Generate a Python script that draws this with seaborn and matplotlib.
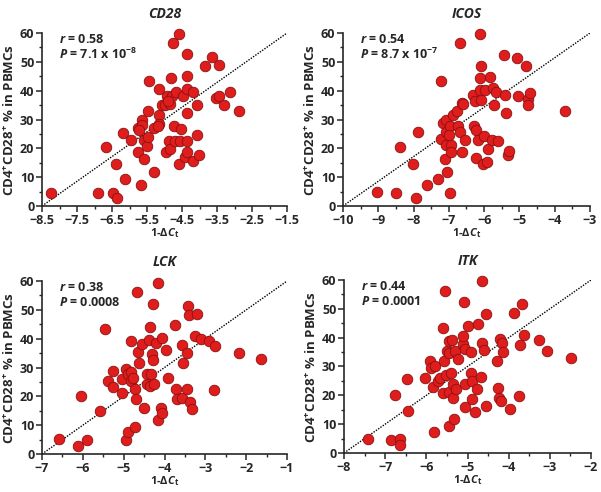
## Scatter plots of CD4+CD28+ % in PBMCs against 1-dCt for four genes
import seaborn as sns
import numpy as np
import matplotlib.pyplot as plt
import pandas as pd
from matplotlib.ticker import MultipleLocator

# CD28 panel
cd28_x = [-8.23, -6.9, -6.47, -6.37, -6.68, -6.39, -6.13, -6.18, -5.96, -5.68, -5.77, -5.77,
          -5.63, -5.65, -5.59, -5.51, -5.58, -5.44, -5.46, -5.46, -5.29, -5.30, -5.17, -5.15,
          -5.15, -5.08, -4.98, -4.94, -4.97, -4.87, -4.84, -4.81, -4.84, -4.79, -4.75, -4.72,
          -4.68, -4.70, -4.60, -4.58, -4.53, -4.56, -4.46, -4.41, -4.36, -4.35, -4.35, -4.35,
          -4.36, -4.36, -4.20, -4.19, -4.08, -4.06, -4.01, -3.84, -3.64, -3.53, -3.43, -3.43,
          -3.29, -3.14, -2.88, -5.20, -4.90, -5.72]
cd28_y = [4.6, 4.6, 4.6, 2.7, 20.3, 14.6, 9.4, 25.3, 22.9, 7.3, 18.8, 27.0,
          29.7, 28.0, 22.9, 20.9, 16.2, 43.2, 33.0, 24.0, 11.8, 27.0, 40.7, 31.6,
          28.4, 35.0, 35.0, 38.0, 18.9, 22.5, 19.9, 44.4, 35.5, 38.0, 56.5, 27.8,
          39.4, 22.7, 59.7, 14.5, 26.8, 22.5, 38.0, 16.9, 52.7, 45.0, 40.6, 32.2,
          22.7, 18.9, 39.7, 15.6, 35.1, 24.7, 17.6, 48.6, 51.6, 37.3, 48.8, 38.0,
          35.1, 39.4, 33.1, 27.6, 36.4, 26.4]

# ICOS panel
icos_x = [-9.05, -8.49, -8.39, -8.01, -7.87, -7.94, -7.63, -7.30, -7.21, -7.21, -7.18, -7.07,
          -7.11, -7.04, -7.07, -6.98, -7.0, -7.07, -6.97, -6.93, -6.93, -6.88, -6.78, -6.74,
          -6.69, -6.62, -6.64, -6.53, -6.69, -6.12, -6.59, -6.31, -6.28, -6.26, -6.24, -6.22,
          -6.17, -6.12, -6.10, -6.12, -6.09, -6.03, -6.01, -5.98, -5.93, -5.90, -5.82, -5.76,
          -5.71, -5.65, -5.79, -5.60, -5.44, -5.41, -5.39, -5.32, -5.29, -5.08, -5.03, -4.80,
          -4.77, -4.75, -4.70, -3.71]
icos_y = [5.0, 4.6, 20.4, 14.6, 25.6, 2.9, 7.3, 9.4, 43.4, 23.2, 28.7, 29.9,
          16.2, 11.9, 25.8, 27.6, 24.7, 21.0, 4.6, 21.0, 18.9, 31.5, 32.8, 27.6,
          25.8, 18.9, 35.7, 22.9, 56.5, 59.7, 35.4, 38.6, 27.8, 36.3, 16.6, 26.4,
          22.9, 44.3, 48.4, 40.3, 36.8, 14.5, 24.3, 40.3, 15.2, 19.8, 44.7, 40.9,
          35.1, 39.7, 22.9, 22.4, 52.5, 38.6, 32.2, 17.7, 19.2, 51.3, 38.0, 48.7,
          37.1, 34.9, 39.2, 33.1]

# LCK panel
lck_x = [-6.58, -6.11, -5.90, -6.05, -5.58, -5.46, -5.38, -5.27, -5.26, -5.03, -5.05, -4.95,
         -4.95, -4.89, -4.89, -4.83, -4.83, -4.82, -4.77, -4.73, -4.73, -4.71, -4.68, -4.66,
         -4.62, -4.56, -4.50, -4.44, -4.42, -4.38, -4.36, -4.36, -4.32, -4.30, -4.29, -4.28,
         -4.26, -4.22, -4.17, -4.15, -4.09, -4.06, -4.05, -3.97, -3.92, -3.74, -3.72, -3.70,
         -3.58, -3.56, -3.54, -3.46, -3.44, -3.42, -3.40, -3.38, -3.32, -3.21, -3.25, -3.11,
         -2.92, -2.76, -2.80, -2.17, -1.63]
lck_y = [5.2, 2.9, 4.8, 20.2, 14.8, 43.3, 25.4, 28.8, 23.1, 21.3, 26.0, 4.8,
         29.6, 7.5, 27.7, 28.5, 25.4, 39.2, 26.2, 22.5, 9.5, 19.0, 56.3, 35.4,
         31.7, 38.3, 16.1, 24.2, 27.7, 39.6, 44.1, 23.6, 27.7, 34.8, 32.5, 52.2,
         24.4, 38.6, 11.9, 59.4, 16.1, 40.4, 14.4, 36.0, 26.5, 44.7, 22.5, 19.0,
         19.6, 37.7, 31.7, 34.9, 22.5, 51.3, 48.1, 17.9, 15.6, 48.4, 40.9, 39.8,
         39.2, 37.3, 22.3, 35.0, 33.1]

# ITK panel
itk_x = [-7.42, -6.85, -6.63, -6.63, -6.77, -6.44, -6.46, -6.04, -5.92, -5.85, -5.81, -5.88,
         -5.78, -5.71, -5.67, -5.59, -5.59, -5.57, -5.55, -5.53, -5.49, -5.45, -5.45, -5.45,
         -5.46, -5.39, -5.37, -5.35, -5.35, -5.32, -5.31, -5.28, -5.23, -5.12, -5.10, -5.08,
         -5.06, -5.05, -5.05, -5.0, -4.92, -4.92, -4.90, -4.90, -4.82, -4.76, -4.74, -4.68,
         -4.66, -4.64, -4.60, -4.56, -4.54, -4.29, -4.27, -4.22, -4.23, -4.18, -4.17, -4.13,
         -3.97, -3.86, -3.74, -3.73, -3.67, -3.64, -3.26, -3.06, -2.49]
itk_y = [4.9, 4.6, 4.9, 2.7, 20.1, 14.5, 25.5, 26.1, 31.9, 23.0, 7.3, 29.6,
         30.2, 24.9, 26.1, 43.5, 20.9, 31.9, 56.3, 27.1, 35.4, 9.5, 38.9, 21.3,
         34.8, 27.7, 39.2, 23.8, 18.9, 11.9, 35.4, 22.3, 32.7, 37.7, 40.6, 52.5,
         15.9, 36.2, 24.1, 44.1, 35.0, 27.7, 24.9, 18.8, 14.3, 22.3, 44.9, 26.5,
         38.3, 59.7, 35.7, 16.2, 48.3, 31.9, 22.6, 39.7, 19.1, 18.0, 38.3, 35.0,
         15.4, 48.7, 19.7, 37.4, 51.6, 40.8, 39.2, 35.2, 33.1]

genes = ["CD28", "ICOS", "LCK", "ITK"]
r_labels = ["0.58", "0.54", "0.38", "0.44"]
p_labels = [r"7.1 x 10$^{\mathbf{-8}}$", r"8.7 x 10$^{\mathbf{-7}}$", "0.0008", "0.0001"]
x_limits = [(-8.5, -1.5), (-10, -3), (-7, -1), (-8, -2)]
y_limits = (0, 60)

xs = [cd28_x, icos_x, lck_x, itk_x]
ys = [cd28_y, icos_y, lck_y, itk_y]

sns.set_style("ticks")
plt.rcParams['font.family'] = ['Open Sans', 'DejaVu Sans']
plt.rcParams['mathtext.fontset'] = 'custom'
plt.rcParams['mathtext.rm'] = 'Open Sans:bold'
plt.rcParams['mathtext.it'] = 'Open Sans:bold:italic'
plt.rcParams['mathtext.bf'] = 'Open Sans:bold'

fig = plt.figure(figsize=(6.01, 4.92), dpi=100)
positions = [
    [0.0699, 0.5813, 0.4077, 0.3516],
    [0.5707, 0.5813, 0.4110, 0.3516],
    [0.0699, 0.0772, 0.4077, 0.3516],
    [0.5724, 0.0793, 0.4110, 0.3516],
]

for i in range(4):
    ax = fig.add_axes(positions[i])
    df = pd.DataFrame({"dct": xs[i], "pct": ys[i]})
    # dotted diagonal across the axes
    ax.plot(x_limits[i], y_limits, color="black", linestyle=(0, (1, 1)), lw=1.0, zorder=1)
    sns.scatterplot(data=df, x="dct", y="pct", ax=ax, s=58, color="#e01d1d",
                    edgecolor="#8a1010", linewidth=0.6, clip_on=False, zorder=3)
    ax.set_xlim(*x_limits[i])
    ax.set_ylim(*y_limits)
    ax.xaxis.set_major_locator(MultipleLocator(1.0, offset=x_limits[i][0] % 1.0))
    ax.xaxis.set_minor_locator(MultipleLocator(0.5))
    ax.yaxis.set_major_locator(MultipleLocator(10))
    ax.yaxis.set_minor_locator(MultipleLocator(5))
    sns.despine(ax=ax)
    for sp in ["left", "bottom"]:
        ax.spines[sp].set_linewidth(1.2)
    ax.tick_params(which="major", length=4, width=1.1, labelsize=9, pad=1.5)
    ax.tick_params(which="minor", length=2.5, width=1.0)
    for lab in ax.get_xticklabels() + ax.get_yticklabels():
        lab.set_fontweight("bold")
    ax.set_xlabel(r"1-Δ$\mathit{C}_{\mathrm{t}}$", fontsize=8, fontweight="bold", labelpad=0)
    ax.set_ylabel(r"CD4$^{+}$CD28$^{+}$ % in PBMCs", fontsize=9.5, fontweight="bold", labelpad=3)
    ax.set_title(genes[i], fontsize=10, fontweight="bold", fontstyle="italic", pad=11)
    ax.text(0.07, 0.96, r"$r$ = " + r_labels[i], transform=ax.transAxes,
            fontsize=9, fontweight="bold", va="center")
    ax.text(0.07, 0.875, r"$P$ = " + p_labels[i], transform=ax.transAxes,
            fontsize=9, fontweight="bold", va="center")

fig.savefig("out.png", dpi=100)
